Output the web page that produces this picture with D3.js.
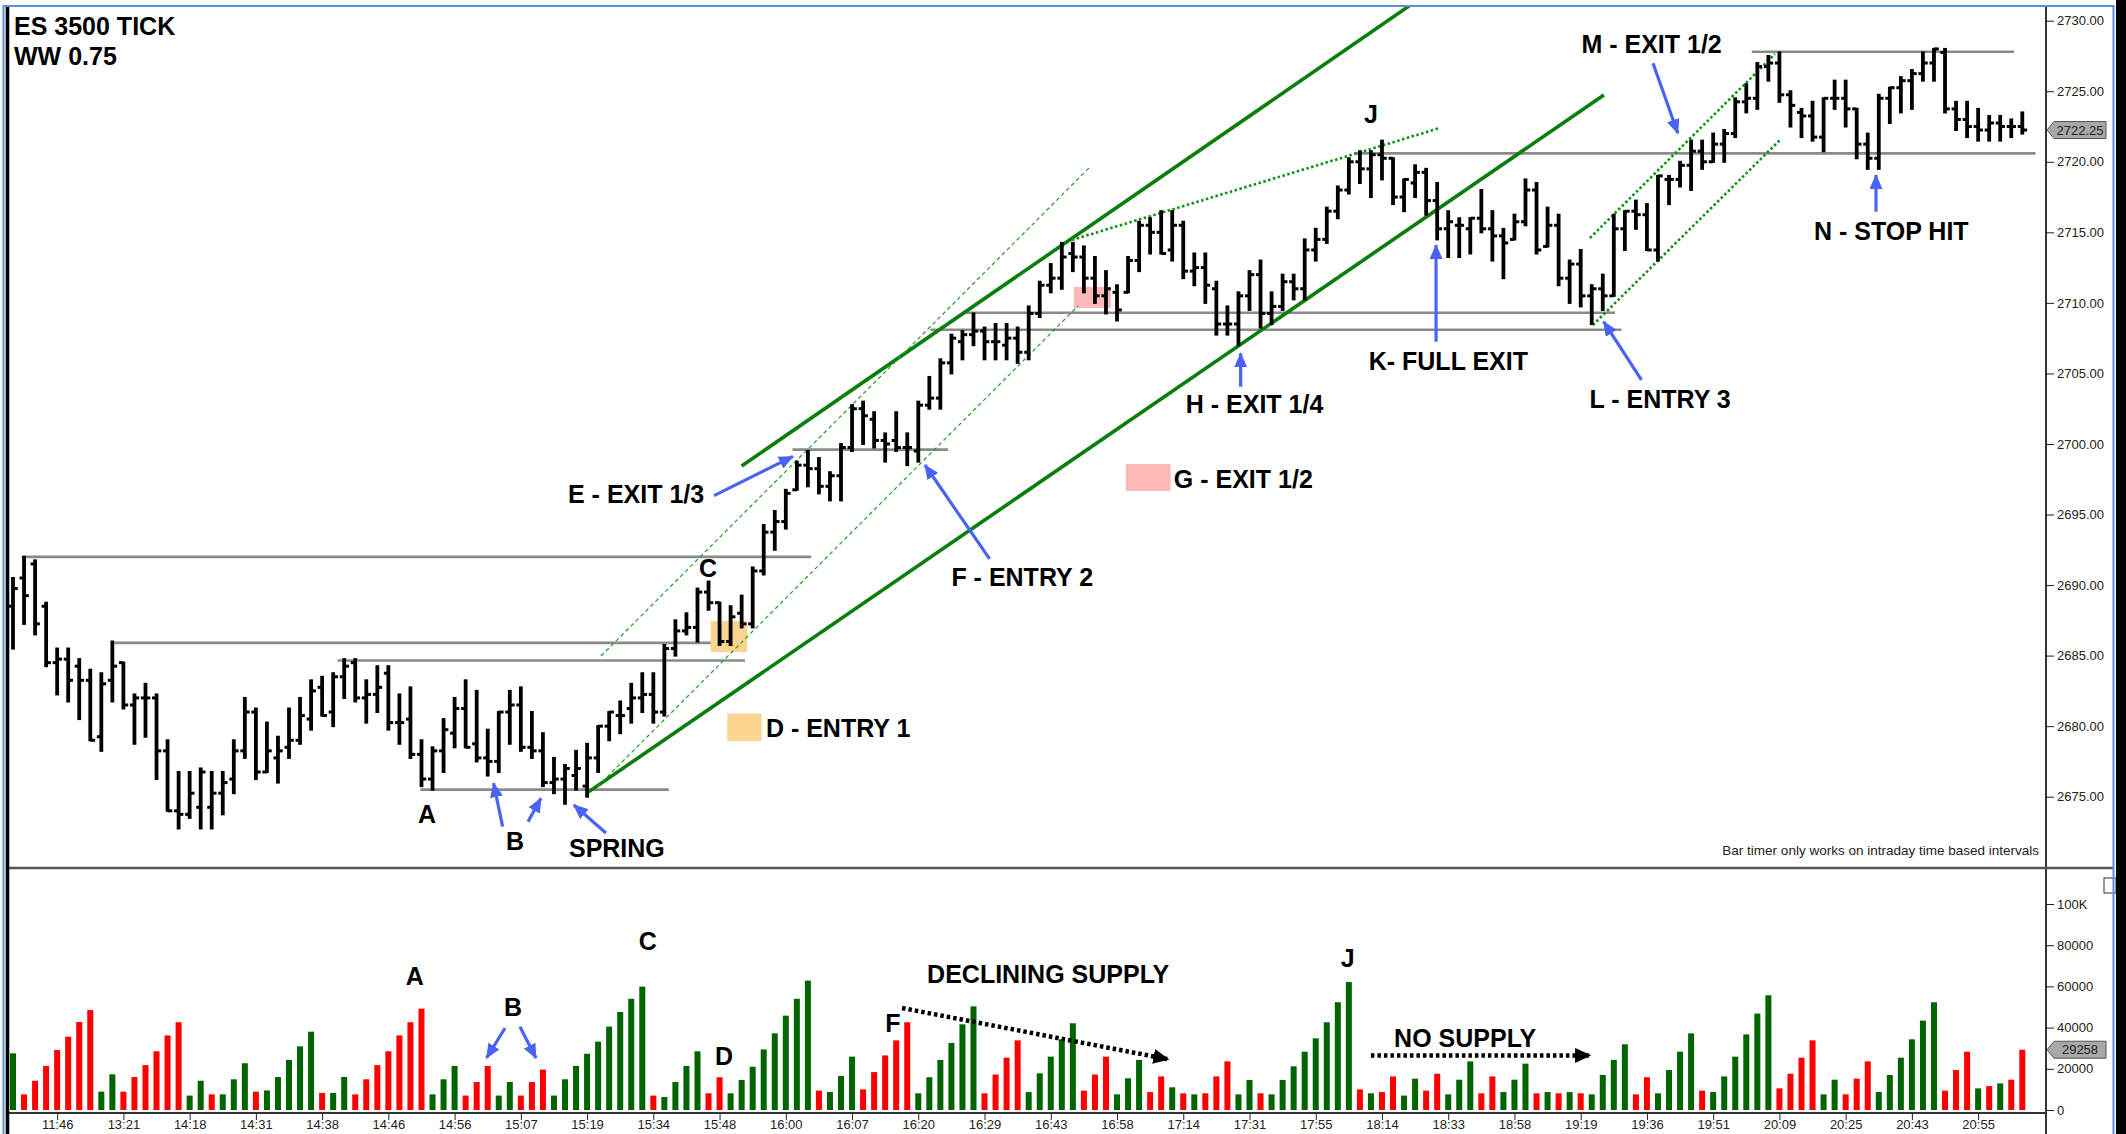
<!DOCTYPE html>
<html>
<head>
<meta charset="utf-8">
<script src="https://d3js.org/d3.v7.min.js"></script>
<style>
  body { margin: 0; background: #fff; }
  text { font-family: "Liberation Sans", Arial, sans-serif; }
</style>
</head>
<body>
<svg class="target" width="2126" height="1134"></svg>
<script>

// ---- data (3500 tick bars, ES) ----
opens = [2688.5,2690.5,2691.5,2688.5,2684.5,2684.75,2684.25,2683.25,2679.25,2683.25,2684.5,2681.5,2682,2682,2678.25,2674,2673.75,2674.25,2674.25,2675.25,
 2676.25,2678.25,2681,2676.75,2677.75,2678.5,2679,2680.5,2682.75,2681,2683.5,2684.5,2682,2682.25,2683.75,2680.25,2680.5,2678,2676.25,2678.25,
 2679.5,2681.25,2678.75,2677.75,2677.5,2681,2681.5,2678.5,2678.25,2676,2676.25,2676.5,2675.75,2677.75,2680,2680.75,2681.25,2682,2682.25,2681,
 2685.5,2686.75,2687,2689.5,2688.75,2686,2688,2687.25,2691,2693.75,2694.5,2696.75,2698.5,2698.25,2697,2697.75,2699.75,2702.5,2701.75,2700.25,
 2700.25,2699.75,2699.5,2702.75,2703.25,2705.75,2707.25,2707.75,2708,2707.25,2707,2707.5,2706.5,2709.25,2711.25,2711.75,2713.5,2713.25,2711.75,2710.5,
 2710.75,2710.75,2713,2715.5,2715,2713.75,2715.5,2712.25,2712.5,2711,2708.5,2708.5,2710.5,2712,2709.25,2709.75,2711.5,2711,2713.75,2714.5,
 2716.5,2718,2720,2719.5,2720.5,2720.25,2717.5,2718.5,2719.25,2717.25,2715.25,2715.5,2715.25,2716,2715.25,2714.75,2714.5,2715.75,2718,2714,
 2715.5,2711.75,2712.75,2710.5,2711,2710.5,2715.25,2716.5,2716.25,2713.75,2718.75,2718.75,2719.75,2720.75,2720,2721.25,2722,2724.25,2724.5,2726.75,
 2727,2724.75,2723.5,2723.25,2721.75,2724.5,2724.5,2723.75,2721.25,2720.25,2724.5,2725.25,2725.75,2726.25,2727,2727.75,2723.75,2723,2722.5,2722.25,
 2722.75,2722.5,2722.5]
highs = [2690.5,2692,2691.75,2688.75,2685.5,2685.5,2684.75,2684,2683.75,2686,2684.5,2682.25,2683,2682.25,2679,2676.75,2676.75,2677,2676.75,2676.75,
 2679,2682,2681.25,2680.25,2679.25,2681.25,2682,2683.25,2683.5,2683.75,2684.75,2684.75,2683.25,2684.25,2684.25,2682.25,2682.75,2679,2678.5,2680.5,
 2682,2683.25,2682.5,2679.75,2681,2682.5,2682.75,2681,2679.5,2677.75,2677.25,2678.25,2678.75,2680,2681,2681.75,2683,2683.75,2683.75,2685.75,
 2687.5,2688,2689.75,2690.25,2688.75,2688.5,2689.25,2691.25,2694.25,2695.25,2696.75,2698.75,2699.5,2699,2698,2700,2702.75,2703,2702.25,2700.75,
 2702.25,2700.75,2703,2704.75,2706,2707.75,2708,2709.25,2708.25,2708.5,2708.5,2708.25,2709.75,2711.5,2712.75,2714.25,2714.25,2714,2713.25,2712.25,
 2711.25,2713.25,2715.75,2716,2716.5,2716.5,2715.75,2713.5,2713.5,2711.5,2709.75,2710.75,2712.25,2713,2710.75,2712,2712,2714.5,2715.25,2716.75,
 2718.25,2720.25,2720.75,2720.75,2721.5,2720.25,2718.75,2719.75,2719.5,2718.5,2716.5,2716,2716,2718,2716.5,2715.25,2716.25,2718.75,2718.5,2716.75,
 2716.25,2713,2713.75,2711.25,2712,2716.25,2716.5,2717.25,2717,2719,2719,2720,2721.5,2721.5,2722,2722.25,2724.5,2725.5,2727,2727.5,
 2727.75,2725,2723.75,2724.25,2724.5,2725.75,2725.75,2723.75,2722,2724.75,2725.25,2726,2726.5,2727.75,2728,2728,2724.25,2724.25,2723.75,2723.25,
 2723.25,2723,2723.5]
lows = [2685.5,2687.25,2686.5,2684.25,2682.25,2681.75,2680.5,2679,2678.25,2681.75,2681.25,2678.75,2679.25,2676.25,2674,2672.75,2673.5,2672.75,2672.75,2673.75,
 2675.25,2677.75,2676.25,2676.75,2676,2677.75,2678.75,2679.75,2680.75,2680,2682,2681.75,2680.25,2681,2679.75,2678.75,2677.75,2675.75,2675.5,2676.75,
 2678.5,2678.5,2677.5,2676.5,2676.75,2678.75,2678.25,2677.75,2675.75,2675.25,2674.5,2675.5,2675,2676.75,2679,2679.5,2680.25,2681,2680.25,2680.75,
 2685,2686.5,2686,2688.25,2685.75,2685.75,2687,2687,2690.75,2692.5,2694,2696.75,2697,2696.5,2696,2696,2699.5,2700,2699.75,2698.75,
 2699.5,2698.5,2698.75,2702.5,2702.5,2705,2706,2707,2706,2706,2706,2705.75,2706,2709,2710.75,2711,2712.25,2710.75,2710,2709.25,
 2708.75,2710.75,2712.25,2713.5,2713.5,2713,2711.75,2711.25,2710,2707.75,2707.75,2707,2709.5,2708.25,2708.5,2709.5,2710.25,2710.25,2713,2714.25,
 2716,2717.75,2718.5,2717.5,2718.75,2717,2716.5,2717.5,2716.25,2714.5,2713.25,2713.25,2713.5,2715,2713,2711.75,2714.5,2715.5,2713.5,2714,
 2711.25,2710,2709.75,2708.5,2709.5,2710.5,2713.75,2715.25,2713.75,2713,2717,2718.25,2718,2719.5,2720,2720,2721.75,2723.5,2723.75,2725.75,
 2724.25,2722.5,2721.75,2721.5,2720.75,2723.75,2722.5,2720.25,2719.5,2719.5,2722.75,2723.5,2723.75,2725.75,2725.75,2723.5,2722.25,2721.75,2721.5,2721.5,
 2721.5,2721.75,2722]
closes = [2689.75,2689.25,2687.25,2684.5,2684.75,2683.25,2683.25,2679,2683,2684.25,2681.5,2682,2682,2678.25,2674,2673.75,2675.25,2676.75,2675.25,2676,
 2678.25,2681,2676.75,2678.25,2678.25,2679,2680.75,2682.5,2680.75,2683.5,2684.25,2682,2682.25,2682.75,2680.25,2680.25,2678,2676.25,2678.25,2679.75,
 2681.25,2678.5,2677.75,2677.5,2681,2681.5,2678.5,2678.25,2676,2676.25,2677,2677,2677.75,2680,2681,2680.75,2682,2682.25,2681,2685.5,
 2686.75,2687,2689.5,2688.75,2686,2687.75,2687.25,2691,2693.75,2694.5,2696.5,2698.5,2698.25,2697,2697.75,2699.75,2702.5,2702,2700.25,2700,
 2699.75,2699.75,2702.75,2703.25,2705.75,2707.5,2707.75,2708,2707.25,2707.25,2707.5,2706.5,2709.25,2711.25,2711.75,2713.25,2713.25,2711.75,2710.5,2711,
 2709.5,2713,2715.5,2715,2713.5,2715.5,2712.25,2712.5,2711.25,2708.5,2708.5,2710.5,2712,2709.25,2709.75,2711.5,2711,2713.75,2714.5,2716.5,
 2718,2720,2719.5,2720.5,2720.25,2717.5,2718.75,2719.25,2717.25,2715.25,2715.75,2715.5,2716,2715.25,2714.75,2714.25,2715.75,2718,2713.75,2715.5,
 2711.75,2712.75,2710.5,2711,2710.5,2715.25,2716.5,2716.25,2713.75,2719,2718.75,2719.75,2720.75,2720,2721.25,2722,2724.25,2724.5,2726.75,2727,
 2724.75,2724,2723.25,2721.75,2724.5,2724.5,2723.75,2721.25,2720.25,2724.5,2725.25,2725.75,2726.25,2727,2728,2723.75,2723,2722.5,2722.25,2722.75,
 2722.5,2722.5,2722.25]

// Weis wave volume per bar and wave direction (g = up wave, r = down wave)
volumes = [27500,7600,14200,21400,29100,35600,42700,48500,8900,17300,8900,16000,21800,28500,36200,42600,7000,14200,7600,7600,
 14900,22700,8900,9500,16000,24300,30900,38000,8300,8300,16000,7600,14900,21800,28500,36200,42600,49200,7600,14900,
 21400,7000,13600,21400,7000,13600,7000,13600,19600,7000,14900,21400,27300,33200,40500,47600,54000,59900,7000,6300,
 13600,21400,28500,8100,15900,8100,14600,21000,29400,37200,45800,54000,62800,9400,8700,16500,25900,10000,18400,26500,
 33800,42600,8100,15900,24300,32500,41600,50300,8100,17200,25400,33800,8700,17800,25900,34300,42100,9400,17200,25900,
 7600,15400,24300,8700,16300,11000,8100,7600,8100,16300,23600,7600,14600,8100,7600,14600,21200,28300,34800,42600,
 52300,62100,10000,8100,8700,16300,7000,15200,9400,17600,7600,14700,23600,8100,16300,8700,14700,22500,8100,8700,
 8100,8700,8100,7600,17000,24300,31900,7600,15900,8100,19400,28300,37200,9400,8700,16300,25900,36700,46800,55700,
 10500,17600,25400,33800,7600,14700,7600,15200,23600,8700,17000,25400,34300,43400,52300,9400,19400,28300,10500,11600,
 12900,14700,29258]
waveDir = ('grrrrrrrggrrrrrrggrgggrgggggrggrrrrrrrgggrrrggrrrgggggggggrggggrr' +
           'ggggggggrgggrrrrrggggggrrrrgggggrrrgggrrgrgrrrggrggggggggrgrrggrrgggrrgggrgrgrggggrrggggrggggggrrrrggrrrggggggrrrgrgrr').split('')

timeLabels = ['11:46','13:21','14:18','14:31','14:38','14:46','14:56','15:07','15:19','15:34','15:48','16:00','16:07','16:20','16:29',
 '16:43','16:58','17:14','17:31','17:55','18:14','18:33','18:58','19:19','19:36','19:51','20:09','20:25','20:43','20:55']
timeTickBars = d3.range(4, 183, 6)
priceTicks = d3.range(2675, 2731, 5)
volTicks = [0, 20000, 40000, 60000, 80000, 100000]

// support / resistance levels: price, first bar, last bar
levels = [[2692.0, 0.8, 72.3], [2685.9, 9.2, 66.3], [2684.65, 29.4, 66.3], [2675.5, 36.9, 59.4],
          [2699.6, 70.6, 84.7], [2709.3, 86.3, 145.1], [2708.1, 83.1, 145.7], [2720.6, 121.5, 183.2], [2727.8, 157.5, 181.25]]

console.log(opens.length, highs.length, lows.length, closes.length, volumes.length, waveDir.length)

// ---- layout ----
width = 2126
height = 1134
axisX = 2046
priceTop = 7
priceBottom = 868
volBase = 1113

x = d3.scaleLinear([0, 182], [13, 2022.3])
yP = d3.scaleLinear([2675, 2730], [796.7, 20.7])
yV = d3.scaleLinear([0, 100000], [1110, 904])

const svg = d3.select('.target')
    .attr('width', width)
    .attr('height', height)

const defs = svg.append('defs')
defs.append('clipPath').attr('id', 'priceClip')
  .append('rect').attr('x', 9).attr('y', priceTop).attr('width', axisX - 9).attr('height', priceBottom - priceTop)

function marker(id, color, w, h) {
  defs.append('marker').attr('id', id)
    .attr('markerUnits', 'userSpaceOnUse')
    .attr('viewBox', `0 0 ${w} ${h}`)
    .attr('markerWidth', w).attr('markerHeight', h)
    .attr('refX', w - 1).attr('refY', h / 2)
    .attr('orient', 'auto')
    .append('path').attr('d', `M0,0L${w},${h / 2}L0,${h}Z`).attr('fill', color)
}
marker('blueHead', '#4a63f5', 15, 13)
marker('blackHead', '#000', 16, 15)

const blue = '#4a63f5'
const green = '#0b7d0b'

// ---- price panel ----
const price = svg.append('g').attr('clip-path', 'url(#priceClip)')

price.selectAll('.lvl')
  .data(levels)
  .join('line')
    .attr('x1', d => x(d[1])).attr('x2', d => x(d[2]))
    .attr('y1', d => yP(d[0])).attr('y2', d => yP(d[0]))
    .attr('stroke', '#8a8a8a').attr('stroke-width', 2.6)

// shaded zones (entry / exit)
const zones = [
  {i0: 63.2, i1: 66.5, p0: 2687.45, p1: 2685.25, fill: '#fbd58f'},
  {i0: 96.1, i1: 99.45, p0: 2711.13, p1: 2709.64, fill: '#ffb8b8'},
  {i0: 64.7, i1: 67.8, p0: 2680.9, p1: 2678.95, fill: '#fbd58f'},
  {i0: 100.8, i1: 104.85, p0: 2698.58, p1: 2696.67, fill: '#ffb8b8'}
]
price.selectAll('.zone')
  .data(zones)
  .join('rect')
    .attr('x', d => x(d.i0)).attr('width', d => x(d.i1) - x(d.i0))
    .attr('y', d => yP(d.p0)).attr('height', d => yP(d.p1) - yP(d.p0))
    .attr('fill', d => d.fill)

// trend channel lines
const channels = [
  {a: [52.0, 2675.27], b: [144.1, 2724.73], w: 3.6, dash: null, c: green},
  {a: [66.0, 2698.44], b: [126.45, 2731.04], w: 3.6, dash: null, c: green},
  {a: [53.26, 2684.97], b: [97.55, 2719.63], w: 1.2, dash: '4,3', c: '#22a022'},
  {a: [52.9, 2675.69], b: [96.47, 2709.78], w: 1.2, dash: '4,3', c: '#22a022'},
  {a: [95.92, 2714.46], b: [129.26, 2722.4], w: 2.6, dash: '2.5,2.5', c: '#109010'},
  {a: [142.84, 2714.6], b: [159.6, 2727.64], w: 2.6, dash: '2.5,2.5', c: '#109010'},
  {a: [143.1, 2708.43], b: [160.14, 2721.61], w: 2.6, dash: '2.5,2.5', c: '#109010'}
]
price.selectAll('.chan')
  .data(channels)
  .join('line')
    .attr('x1', d => x(d.a[0])).attr('y1', d => yP(d.a[1]))
    .attr('x2', d => x(d.b[0])).attr('y2', d => yP(d.b[1]))
    .attr('stroke', d => d.c).attr('stroke-width', d => d.w)
    .attr('stroke-dasharray', d => d.dash)

// OHLC bars
const bars = d3.range(opens.length)
const barG = price.append('g').attr('stroke', '#000')
barG.selectAll('.hl')
  .data(bars)
  .join('line')
    .attr('x1', i => x(i)).attr('x2', i => x(i))
    .attr('y1', i => yP(highs[i]) - 1).attr('y2', i => yP(lows[i]) + 1)
    .attr('stroke-width', 3.8)
barG.selectAll('.op')
  .data(bars)
  .join('line')
    .attr('x1', i => x(i) - 4.5).attr('x2', i => x(i))
    .attr('y1', i => yP(opens[i])).attr('y2', i => yP(opens[i]))
    .attr('stroke-width', 3)
barG.selectAll('.cl')
  .data(bars)
  .join('line')
    .attr('x1', i => x(i)).attr('x2', i => x(i) + 4.8)
    .attr('y1', i => yP(closes[i])).attr('y2', i => yP(closes[i]))
    .attr('stroke-width', 3)

// arrows on price panel: tail -> head in (bar, price)
const priceArrows = [
  [44.35, 2672.88, 43.53, 2675.96], [46.65, 2673.23, 47.82, 2674.89],
  [53.71, 2672.43, 50.8, 2674.41], [63.5, 2696.34, 70.65, 2699.12],
  [88.46, 2691.85, 82.6, 2698.51], [111.2, 2704.06, 111.2, 2706.43],
  [128.9, 2707.25, 128.9, 2714.1], [147.5, 2704.54, 144.08, 2708.67],
  [148.55, 2726.98, 150.8, 2722.02], [168.75, 2716.46, 168.75, 2719.06]
]
price.selectAll('.parr')
  .data(priceArrows)
  .join('line')
    .attr('x1', d => x(d[0])).attr('y1', d => yP(d[1]))
    .attr('x2', d => x(d[2])).attr('y2', d => yP(d[3]))
    .attr('stroke', blue).attr('stroke-width', 3.2)
    .attr('marker-end', 'url(#blueHead)')

// notes on the price panel
const priceNotes = [
  {t: 'A', i: 37.5, p: 2673.14, a: 'middle'}, {t: 'B', i: 45.47, p: 2671.23, a: 'middle'},
  {t: 'SPRING', i: 50.36, p: 2670.73, a: 'start'}, {t: 'C', i: 62.95, p: 2690.57, a: 'middle'},
  {t: 'E - EXIT 1/3', i: 50.27, p: 2695.82, a: 'start'}, {t: 'D - ENTRY 1', i: 68.2, p: 2679.24, a: 'start'},
  {t: 'F - ENTRY 2', i: 85.0, p: 2689.96, a: 'start'}, {t: 'G - EXIT 1/2', i: 105.15, p: 2696.88, a: 'start'},
  {t: 'H - EXIT 1/4', i: 106.23, p: 2702.2, a: 'start'}, {t: 'J', i: 123.0, p: 2722.75, a: 'middle'},
  {t: 'K- FULL EXIT', i: 122.8, p: 2705.24, a: 'start'}, {t: 'L - ENTRY 3', i: 142.8, p: 2702.55, a: 'start'},
  {t: 'M - EXIT 1/2', i: 142.07, p: 2727.71, a: 'start'}, {t: 'N - STOP HIT', i: 163.13, p: 2714.46, a: 'start'}
]
svg.selectAll('.pnote')
  .data(priceNotes)
  .join('text')
    .attr('x', d => x(d.i)).attr('y', d => yP(d.p))
    .attr('text-anchor', d => d.a)
    .attr('font-size', 25).attr('font-weight', 'bold')
    .text(d => d.t)

// ---- volume panel ----
svg.append('g').selectAll('rect')
  .data(bars)
  .join('rect')
    .attr('x', i => x(i) - 3)
    .attr('width', 6)
    .attr('y', i => yV(volumes[i]))
    .attr('height', i => yV(0) - yV(volumes[i]))
    .attr('fill', i => waveDir[i] === 'g' ? '#006400' : '#ff0000')

const volArrows = [
  {a: [44.57, 39800], b: [42.9, 25240], c: blue, w: 3.2, dash: null, m: 'blueHead'},
  {a: [45.92, 40430], b: [47.37, 25240], c: blue, w: 3.2, dash: null, m: 'blueHead'},
  {a: [80.53, 49510], b: [104.65, 24610], c: '#000', w: 4.5, dash: '3.5,3', m: 'blackHead'},
  {a: [123.0, 26500], b: [142.85, 26500], c: '#000', w: 4.5, dash: '3.5,3', m: 'blackHead'}
]
svg.selectAll('.varr')
  .data(volArrows)
  .join('line')
    .attr('x1', d => x(d.a[0])).attr('y1', d => yV(d.a[1]))
    .attr('x2', d => x(d.b[0])).attr('y2', d => yV(d.b[1]))
    .attr('stroke', d => d.c).attr('stroke-width', d => d.w)
    .attr('stroke-dasharray', d => d.dash)
    .attr('marker-end', d => `url(#${d.m})`)

const volNotes = [
  {t: 'A', i: 36.4, v: 60675, a: 'middle'}, {t: 'B', i: 45.3, v: 45630, a: 'middle'},
  {t: 'C', i: 57.5, v: 77660, a: 'middle'}, {t: 'D', i: 64.4, v: 21840, a: 'middle'},
  {t: 'F', i: 79.7, v: 37860, a: 'middle'}, {t: 'DECLINING SUPPLY', i: 82.8, v: 61650, a: 'start'},
  {t: 'J', i: 120.9, v: 69410, a: 'middle'}, {t: 'NO SUPPLY', i: 125.1, v: 30580, a: 'start'}
]
svg.selectAll('.vnote')
  .data(volNotes)
  .join('text')
    .attr('x', d => x(d.i)).attr('y', d => yV(d.v))
    .attr('text-anchor', d => d.a)
    .attr('font-size', 25).attr('font-weight', 'bold')
    .text(d => d.t)

// ---- axes ----
const priceAxis = d3.axisRight(yP).tickValues(priceTicks).tickFormat(d3.format('.2f')).tickSize(8).tickPadding(3)
svg.append('g').attr('transform', `translate(${axisX},0)`).call(priceAxis)
  .call(g => g.select('.domain').remove())

const volAxis = d3.axisRight(yV).tickValues(volTicks)
  .tickFormat(v => v === 100000 ? '100K' : v).tickSize(8).tickPadding(3)
svg.append('g').attr('transform', `translate(${axisX},0)`).call(volAxis)
  .call(g => g.select('.domain').remove())

// time labels sit on the bottom edge; keep them just inside the picture
const timeAxis = d3.axisBottom(x).tickValues(timeTickBars)
  .tickFormat((d, k) => timeLabels[k]).tickSize(7).tickPadding(0)
svg.append('g').attr('transform', `translate(0,${volBase})`).call(timeAxis)
  .call(g => g.select('.domain').remove())

svg.selectAll('.tick text').attr('font-size', 13).attr('fill', '#222')
svg.selectAll('.tick line').attr('stroke', '#222')

// last value markers
function valueTag(y, label) {
  const g = svg.append('g')
  g.append('path')
    .attr('d', `M${axisX + 1},${y} L${axisX + 8},${y - 8.5} L${axisX + 60},${y - 8.5} L${axisX + 60},${y + 8.5} L${axisX + 8},${y + 8.5} Z`)
    .attr('fill', '#a8a8a8').attr('stroke', '#555')
  g.append('text').attr('x', axisX + 34).attr('y', y + 4.5)
    .attr('text-anchor', 'middle').attr('font-size', 13).attr('fill', '#222').text(label)
}
valueTag(yP(closes[closes.length - 1]), d3.format('.2f')(closes[closes.length - 1]))
valueTag(yV(volumes[volumes.length - 1]), volumes[volumes.length - 1])

// ---- frame ----
svg.append('line').attr('x1', axisX).attr('x2', axisX).attr('y1', priceTop - 1).attr('y2', height)
  .attr('stroke', '#000').attr('stroke-width', 1.6)
svg.append('line').attr('x1', 8).attr('x2', 2113).attr('y1', priceBottom).attr('y2', priceBottom)
  .attr('stroke', '#555').attr('stroke-width', 2.6)
svg.append('line').attr('x1', 8).attr('x2', axisX).attr('y1', volBase).attr('y2', volBase)
  .attr('stroke', '#333').attr('stroke-width', 2)
svg.append('line').attr('x1', 3).attr('x2', 2114).attr('y1', 6).attr('y2', 6)
  .attr('stroke', '#5b8fd9').attr('stroke-width', 2)
svg.append('line').attr('x1', 3.5).attr('x2', 3.5).attr('y1', 5).attr('y2', height)
  .attr('stroke', '#5b8fd9').attr('stroke-width', 2)
svg.append('line').attr('x1', 7.5).attr('x2', 7.5).attr('y1', 7).attr('y2', height)
  .attr('stroke', '#000').attr('stroke-width', 3.6)
svg.append('rect').attr('x', 2104).attr('y', 878).attr('width', 12).attr('height', 15)
  .attr('fill', '#fff').attr('stroke', '#333')
svg.append('line').attr('x1', 2113.5).attr('x2', 2113.5).attr('y1', 5).attr('y2', height)
  .attr('stroke', '#5b8fd9').attr('stroke-width', 2)
svg.append('rect').attr('x', 2116).attr('y', 0).attr('width', 10).attr('height', height).attr('fill', '#000')

// titles
svg.append('text').attr('x', 14).attr('y', 35).attr('font-size', 25).attr('font-weight', 'bold').text('ES 3500 TICK')
svg.append('text').attr('x', 14).attr('y', 65).attr('font-size', 25).attr('font-weight', 'bold').text('WW 0.75')
svg.append('text').attr('x', 2039).attr('y', 855).attr('text-anchor', 'end').attr('font-size', 13.5)
  .attr('fill', '#222').text('Bar timer only works on intraday time based intervals')

</script>
</body>
</html>
